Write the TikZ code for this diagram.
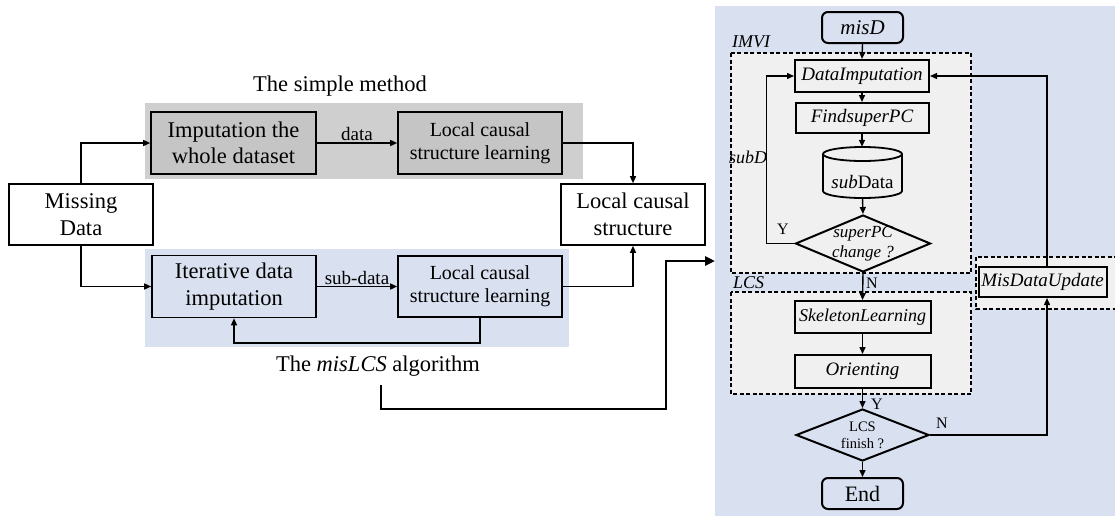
\documentclass[tikz,border=0pt]{standalone}
\usepackage{fontspec}
\setmainfont{Liberation Serif}
\usetikzlibrary{arrows.meta,shapes.geometric}
\definecolor{bggray}{RGB}{207,207,207}
\definecolor{boxgray}{RGB}{197,197,197}
\definecolor{bgblue}{RGB}{217,224,240}
\definecolor{lgray}{RGB}{240,240,240}
\begin{document}
\begin{tikzpicture}[x=1pt,y=-1pt,
  arr/.style={-{Triangle[length=7pt,width=6pt]}, line width=1.4pt},
  bigarr/.style={-{Triangle[length=10pt,width=9pt]}, line width=2.6pt},
  lbox/.style={draw, line width=1.6pt, align=center, inner sep=0pt},
  bigtxt/.style={font=\fontsize{22.5}{26.5}\selectfont},
  midtxt/.style={font=\fontsize{20}{23}\selectfont},
  rbox/.style={draw, line width=2pt, fill=lgray, align=center, inner sep=0pt, font=\fontsize{19}{22}\selectfont\itshape},
  term/.style={draw, line width=2pt, fill=bgblue, rounded corners=6pt, inner sep=0pt, minimum width=81, minimum height=31},
  dbox/.style={draw, dash pattern=on 4pt off 2.5pt, line width=1.2pt, fill=lgray},
  dia/.style={draw, diamond, line width=2pt, inner sep=0pt},
  yn/.style={font=\fontsize{16}{18}\selectfont, inner sep=1pt},
  grp/.style={font=\fontsize{18}{20}\selectfont\itshape, inner sep=0pt, anchor=west}
]
\clip (0,0) rectangle (1115,515);
% ---------- backgrounds ----------
\fill[bggray] (145,103) rectangle (583,179);
\fill[bgblue] (145,249) rectangle (569,347);
\fill[bgblue] (715,6) rectangle (1120,520);
\draw[dbox] (731,53) rectangle (971,273);
\draw[dbox] (731,292) rectangle (971,394);
\draw[dbox] (976,257) rectangle (1125,309);
% ---------- left part ----------
\node[bigtxt] (simple) at (340,86) {The simple method};
\node[bigtxt] (mislcs) at (378,366) {The \textit{misLCS} algorithm};
\node[lbox, bigtxt, fill=white, minimum width=144, minimum height=61] (miss) at (81,214.5) {Missing\\Data};
\node[lbox, bigtxt, fill=boxgray, minimum width=165, minimum height=62] (imp) at (233.5,143) {Imputation the\\whole dataset};
\node[lbox, midtxt, fill=boxgray, minimum width=164, minimum height=62] (lcs1) at (480,143) {Local causal\\structure learning};
\node[lbox, bigtxt, fill=bgblue, minimum width=164, minimum height=62] (iter) at (234,286.5) {Iterative data\\imputation};
\node[lbox, midtxt, fill=bgblue, minimum width=164, minimum height=61] (lcs2) at (480,286.5) {Local causal\\structure learning};
\node[lbox, bigtxt, fill=white, minimum width=144, minimum height=61] (lcsout) at (633,214.5) {Local causal\\structure};
\draw[arr] (miss.north) |- (imp.west);
\draw[arr] (miss.south) |- (iter.west);
\draw[arr] (imp.east) -- node[above, inner sep=2pt, font=\fontsize{19}{21}\selectfont] (datalbl) {data} (lcs1.west);
\draw[arr] (iter.east) -- node[above, inner sep=1pt, font=\fontsize{19}{21}\selectfont] (sublbl) {sub-data} (lcs2.west);
\draw[arr] (lcs1.east) -| (lcsout.north);
\draw[arr] (lcs2.east) -| (lcsout.south);
\coordinate (fb) at (480,343);
\draw[arr] (lcs2.south) -- (fb) -| (iter.south);
\coordinate (t0) at (381,385);
\coordinate (t1) at (666,409);
\coordinate (t3) at (715,261);
\draw[bigarr] (t0) |- (t1) |- (t3);
% ---------- right panel ----------
\node[grp] (imvi) at (732,42) {IMVI};
\node[grp] (lcsg) at (733,283) {LCS};
\node[term, font=\fontsize{21}{23}\selectfont\itshape] (misd) at (862.5,27.5) {misD};
\node[rbox, minimum width=134, minimum height=32] (di) at (862,76) {DataImputation};
\node[rbox, minimum width=133, minimum height=30] (fsp) at (862,118) {FindsuperPC};
\node[inner sep=0pt, minimum width=79, minimum height=51] (sub) at (862.5,172.5) {};
\filldraw[fill=lgray, line width=1.8pt] (823,154) -- (823,191) arc[start angle=180,end angle=0,x radius=39.5,y radius=7] -- (902,154) arc[start angle=0,end angle=-180,x radius=39.5,y radius=7] -- cycle;
\draw[line width=1.8pt] (823,154) arc[start angle=180,end angle=0,x radius=39.5,y radius=7];
\node[font=\fontsize{19}{21}\selectfont, inner sep=0pt] (subtxt) at (862.5,182) {\textit{sub}Data};
\node[dia, fill=lgray, minimum width=135, minimum height=57,
  label={[align=center, font=\fontsize{17}{20}\selectfont\itshape]center:superPC\\change ?}] (d1) at (863,243.5) {};
\node[rbox, minimum width=136, minimum height=32, font=\fontsize{18}{20}\selectfont\itshape] (skel) at (862.5,317) {SkeletonLearning};
\node[rbox, minimum width=136, minimum height=33] (ori) at (862.5,371.5) {Orienting};
\node[dia, fill=bgblue, minimum width=133, minimum height=52,
  label={[align=center, font=\fontsize{14.5}{17}\selectfont]center:LCS\\finish ?}] (d2) at (862.5,435) {};
\node[term, font=\fontsize{22}{24}\selectfont] (endn) at (862.5,493.5) {End};
\node[rbox, minimum width=128, minimum height=30] (mdu) at (1042.5,282) {MisDataUpdate};
\draw[arr] (misd.south) -- (di.north);
\draw[arr] (di.south) -- (fsp.north);
\draw[arr] (fsp.south) -- (fsp.south |- sub.north);
\draw[arr] (sub.south) -- (d1.north);
\draw[arr] (d1.west) -- ++(-28,0) |- (di.west);
\node[yn] (y1) at (783,229) {Y};
\node[font=\fontsize{18}{20}\selectfont\itshape, inner sep=0pt] (subd) at (748,157) {subD};
\draw[arr] (d1.south) -- (skel.north);
\node[yn] (n1) at (872,283) {N};
\draw[arr] (skel.south) -- (ori.north);
\draw[arr] (ori.south) -- (d2.north);
\node[yn] (y2) at (877,404) {Y};
\draw[arr] (d2.south) -- (endn.north);
\draw[arr] (d2.east) -| ([xshift=4.5pt]mdu.south);
\node[yn] (n2) at (942,423) {N};
\draw[arr] ([xshift=4.5pt]mdu.north) |- (di.east);
\end{tikzpicture}
\end{document}
